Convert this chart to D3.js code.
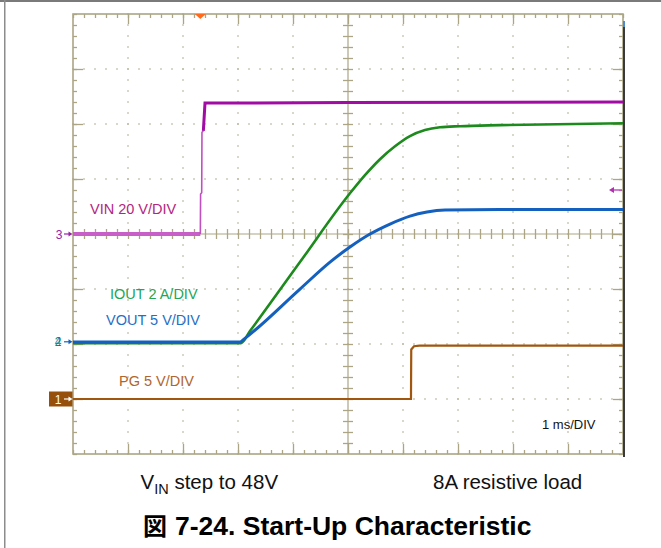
<!DOCTYPE html>
<html><head><meta charset="utf-8">
<script src="https://cdn.jsdelivr.net/npm/d3@7"></script>
<style>html,body{margin:0;padding:0;background:#fff;}svg{display:block}</style>
</head><body><svg id="c" width="661" height="548"></svg>
<script>
// ---------- data (time in ms, values in physical units) ----------
const vinTime  = [0, 2.315, 2.32, 2.34, 2.345, 2.37, 2.40, 5.0, 10.0];
const vinVolts = [0, 0, 14.5, 15.0, 37.0, 37.5, 47.6, 47.8, 48.0];

const ioutTime = [0, 3.055, 3.218, 4.127, 5.036, 5.309, 5.582, 5.855, 6.127, 6.400, 6.673, 7.036, 7.764, 10.0];
const ioutAmps = [0, 0, 0.44, 2.95, 5.45, 6.11, 6.69, 7.16, 7.53, 7.75, 7.85, 7.89, 7.93, 8.0];

const voutTime  = [0, 3.036, 3.109, 4.127, 4.673, 5.036, 5.400, 5.764, 6.127, 6.436, 6.764, 7.764, 10.0];
const voutVolts = [0, 0, 0.27, 4.82, 7.27, 8.64, 9.82, 10.73, 11.45, 11.82, 12.0, 12.05, 12.05];

const pgTime  = [0, 6.145, 6.15, 6.20, 6.30, 10.0];
const pgVolts = [0, 0, 4.5, 4.8, 4.86, 4.86];

const channelLabels = ["VIN 20 V/DIV", "IOUT 2 A/DIV", "VOUT 5 V/DIV", "PG 5 V/DIV"];
const unitsPerDiv   = [20, 2, 5, 5];
const groundDiv     = [0, -1.985, -1.965, -3.0];
const channelNums   = ["3", "2", "4", "1"];

const timeTicks = d3.range(0, 10.001, 1);     // 1 ms/DIV
const divTicks  = d3.range(-4, 4.001, 1);
const timeLabel = "1 ms/DIV";
const noteLeft = ["V", "IN", " step to 48V"];
const noteRight = "8A resistive load";
const titleMark = "図";
const titleText = "7-24. Start-Up Characteristic";

// ---------- setup ----------
const svg = d3.select("#c");
const x = d3.scaleLinear().domain([0, 10]).range([73, 623]);
const y = d3.scaleLinear().domain([-4, 4]).range([454, 14]);
const GRID = "#aba585", DOT = "#bcb8a2";
const minorX = d3.range(0, 10.001, 0.2).map(v => +v.toFixed(1));
const minorY = d3.range(-4, 4.001, 0.2).map(v => +v.toFixed(1));

// outer frame (cropped page)
svg.append("rect").attr("x", 0).attr("y", 0).attr("width", 661).attr("height", 2).attr("fill", "#7a7a7a");
svg.append("rect").attr("x", 4).attr("y", 0).attr("width", 1.5).attr("height", 548).attr("fill", "#8c8c8c");

// dotted grid
const dots = svg.append("g").attr("fill", DOT);
timeTicks.filter(t => t > 0 && t < 10 && t !== 5).forEach(t => {
  minorY.forEach(v => dots.append("rect").attr("x", x(t) - 0.75).attr("y", y(v) - 0.75).attr("width", 1.5).attr("height", 1.5));
});
divTicks.filter(d => d > -4 && d < 4 && d !== 0).forEach(d => {
  minorX.forEach(t => dots.append("rect").attr("x", x(t) - 0.75).attr("y", y(d) - 0.75).attr("width", 1.5).attr("height", 1.5));
});

// border ticks via axes
function styleAxis(g) {
  g.select(".domain").remove();
  g.selectAll("line").attr("stroke", GRID).attr("stroke-width", 1.3);
  g.selectAll("text").remove();
}
const majorXi = timeTicks.filter(t => t > 0 && t < 10);
const majorYi = divTicks.filter(d => d > -4 && d < 4);
svg.append("g").attr("transform", `translate(0,${y(4)})`).call(d3.axisTop(x).tickValues(minorX).tickSize(-4).tickFormat("")).call(styleAxis);
svg.append("g").attr("transform", `translate(0,${y(4)})`).call(d3.axisTop(x).tickValues(majorXi).tickSize(-10).tickFormat("")).call(styleAxis);
svg.append("g").attr("transform", `translate(0,${y(-4)})`).call(d3.axisBottom(x).tickValues(minorX).tickSize(-4).tickFormat("")).call(styleAxis);
svg.append("g").attr("transform", `translate(0,${y(-4)})`).call(d3.axisBottom(x).tickValues(majorXi).tickSize(-10).tickFormat("")).call(styleAxis);
svg.append("g").attr("transform", `translate(${x(0)},0)`).call(d3.axisLeft(y).tickValues(minorY).tickSize(-4).tickFormat("")).call(styleAxis);
svg.append("g").attr("transform", `translate(${x(0)},0)`).call(d3.axisLeft(y).tickValues(majorYi).tickSize(-10).tickFormat("")).call(styleAxis);
svg.append("g").attr("transform", `translate(${x(10)},0)`).call(d3.axisRight(y).tickValues(minorY).tickSize(-4).tickFormat("")).call(styleAxis);
svg.append("g").attr("transform", `translate(${x(10)},0)`).call(d3.axisRight(y).tickValues(majorYi).tickSize(-10).tickFormat("")).call(styleAxis);

// center lines with crossing ticks
svg.append("line").attr("x1", x(0)).attr("x2", x(10)).attr("y1", y(0)).attr("y2", y(0)).attr("stroke", GRID).attr("stroke-width", 1.2);
svg.append("line").attr("x1", x(5)).attr("x2", x(5)).attr("y1", y(4)).attr("y2", y(-4)).attr("stroke", GRID).attr("stroke-width", 1.2);
svg.append("g").attr("transform", `translate(0,${y(0) - 5})`).call(d3.axisBottom(x).tickValues(minorX.filter(t => t > 0 && t < 10)).tickSize(10).tickFormat("")).call(styleAxis);
svg.append("g").attr("transform", `translate(${x(5) + 5},0)`).call(d3.axisLeft(y).tickValues(minorY.filter(d => d > -4 && d < 4)).tickSize(10).tickFormat("")).call(styleAxis);

// border
svg.append("rect").attr("x", x(0)).attr("y", y(4)).attr("width", x(10) - x(0)).attr("height", y(-4) - y(4))
  .attr("fill", "none").attr("stroke", GRID).attr("stroke-width", 1.6);

// ---------- traces ----------
function pts(ts, vs, ch) { return ts.map((t, i) => [x(t), y(groundDiv[ch] + vs[i] / unitsPerDiv[ch])]); }
const lineLin = d3.line();
const lineSmooth = d3.line().curve(d3.curveMonotoneX);

// VIN
const vinPts = pts(vinTime, vinVolts, 0);
svg.append("path").attr("d", lineLin(vinPts.slice(0, 2))).attr("fill", "none").attr("stroke", "#c85ec8").attr("stroke-width", 4);
svg.append("path").attr("d", lineLin(vinPts.slice(1, 6))).attr("fill", "none").attr("stroke", "#c050c0").attr("stroke-width", 1.6);
svg.append("path").attr("d", lineLin(vinPts.slice(5))).attr("fill", "none").attr("stroke", "#a00ca4").attr("stroke-width", 3);
// IOUT
svg.append("path").attr("d", lineSmooth(pts(ioutTime, ioutAmps, 1))).attr("fill", "none").attr("stroke", "#1c8a1c").attr("stroke-width", 2.6);
// VOUT
svg.append("path").attr("d", lineSmooth(pts(voutTime, voutVolts, 2))).attr("fill", "none").attr("stroke", "#1460be").attr("stroke-width", 3);
// PG
svg.append("path").attr("d", lineLin(pts(pgTime, pgVolts, 3))).attr("fill", "none").attr("stroke", "#a0560e").attr("stroke-width", 2.2);

// right edge bar + markers
svg.append("rect").attr("x", x(10)).attr("y", 22).attr("width", 2).attr("height", 435).attr("fill", "#3a3a3a");
svg.append("rect").attr("x", x(10)).attr("y", 21).attr("width", 2).attr("height", 6).attr("fill", "#4a8ad0");
// trigger marker
const trigT = vinTime[1];
svg.append("path").attr("d", `M${x(trigT) - 5.5},${y(4)} L${x(trigT) + 5.5},${y(4)} L${x(trigT)},${y(4) + 5} Z`).attr("fill", "#ff6a1c");
// right purple level arrow
const arrY = y(0.8);
svg.append("line").attr("x1", 614).attr("x2", 622).attr("y1", arrY).attr("y2", arrY).attr("stroke", "#c050c0").attr("stroke-width", 1.5);
svg.append("path").attr("d", `M${609},${arrY} L${614},${arrY - 3} L${614},${arrY + 3} Z`).attr("fill", "#b030b0");

// left channel markers
function arrow(yy, col) {
  svg.append("line").attr("x1", 64).attr("x2", 70).attr("y1", yy).attr("y2", yy).attr("stroke", col).attr("stroke-width", 1.2);
  svg.append("path").attr("d", `M${72.5},${yy} L${68.5},${yy - 2.5} L${68.5},${yy + 2.5} Z`).attr("fill", col);
}
const yCh3 = y(groundDiv[0]);
svg.append("text").attr("x", 59).attr("y", yCh3 + 4.5).attr("text-anchor", "middle").attr("font-family", "Liberation Sans, Arial, sans-serif").attr("font-size", 12).attr("fill", "#9a20a8").text(channelNums[0]);
arrow(yCh3, "#9a20a8");
const yCh24 = y(-1.96);
svg.append("text").attr("x", 58).attr("y", yCh24 + 4.5).attr("text-anchor", "middle").attr("font-family", "Liberation Sans, Arial, sans-serif").attr("font-size", 12).attr("fill", "#1c8a1c").text(channelNums[1]);
svg.append("text").attr("x", 58).attr("y", yCh24 + 4.5).attr("text-anchor", "middle").attr("font-family", "Liberation Sans, Arial, sans-serif").attr("font-size", 12).attr("fill", "#1460be").attr("fill-opacity", 0.8).text(channelNums[2]);
arrow(yCh24, "#1460be");
const yCh1 = y(groundDiv[3]);
svg.append("rect").attr("x", 49).attr("y", yCh1 - 7.5).attr("width", 23.5).attr("height", 15).attr("fill", "#96500c");
svg.append("text").attr("x", 58).attr("y", yCh1 + 4.5).attr("text-anchor", "middle").attr("font-family", "Liberation Sans, Arial, sans-serif").attr("font-size", 12).attr("fill", "#fff").text(channelNums[3]);
arrow(yCh1, "#ffffff");

// channel labels
const labelPos = [[90, 213.5, "#b3267f"], [110, 299, "#22a655"], [106, 325, "#1f70c6"], [119, 386, "#b0652e"]];
channelLabels.forEach((t, i) => {
  svg.append("text").attr("x", labelPos[i][0]).attr("y", labelPos[i][1]).attr("font-family", "Liberation Sans, Arial, sans-serif")
    .attr("font-size", 14.5).attr("fill", labelPos[i][2]).text(t);
});
svg.append("text").attr("x", 542).attr("y", 429).attr("font-family", "Liberation Sans, Arial, sans-serif").attr("font-size", 13).attr("fill", "#111").text(timeLabel);

// notes under chart
const n1 = svg.append("text").attr("x", 140.5).attr("y", 489).attr("font-family", "Liberation Sans, Arial, sans-serif").attr("font-size", 20.5).attr("fill", "#111");
n1.append("tspan").text(noteLeft[0]);
n1.append("tspan").attr("dy", 4.5).attr("font-size", 14.5).text(noteLeft[1]);
n1.append("tspan").attr("dy", -4.5).text(noteLeft[2]);
svg.append("text").attr("x", 433).attr("y", 489).attr("font-family", "Liberation Sans, Arial, sans-serif").attr("font-size", 20.5).attr("fill", "#111").text(noteRight);

// title
svg.append("text").attr("x", 143).attr("y", 535).attr("font-family", "Noto Sans CJK JP, sans-serif").attr("font-weight", "bold").attr("font-size", 24).attr("fill", "#000").text(titleMark);
svg.append("text").attr("x", 175).attr("y", 535).attr("font-family", "Liberation Sans, Arial, sans-serif").attr("font-weight", "bold").attr("font-size", 26.5).attr("fill", "#000").text(titleText);
</script></body></html>
